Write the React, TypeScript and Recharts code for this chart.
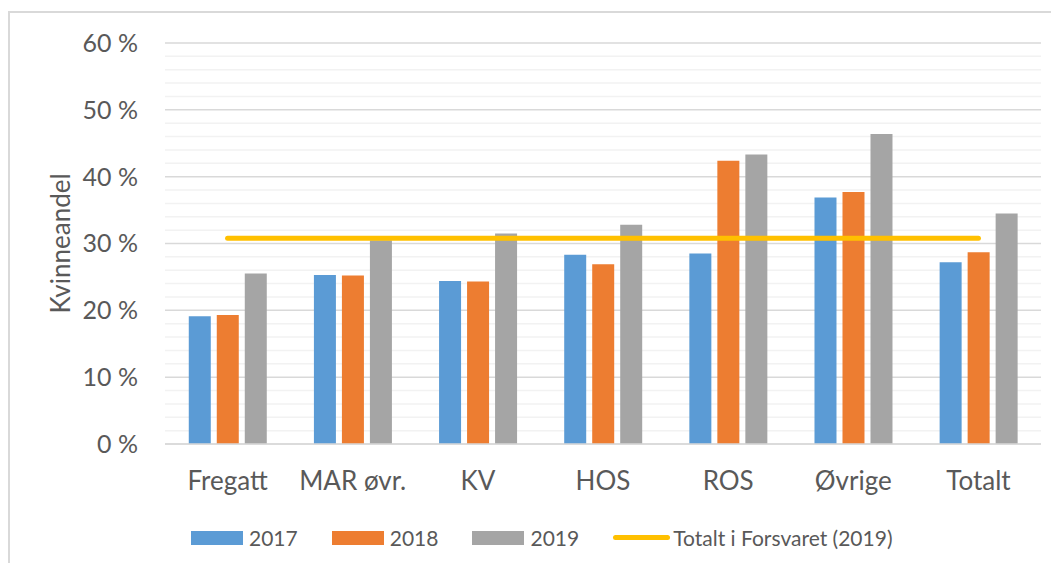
import React from 'react';
import { ComposedChart, Bar, Line, XAxis, YAxis, CartesianGrid, Legend } from 'recharts';

const categories = ['Fregatt', 'MAR øvr.', 'KV', 'HOS', 'ROS', 'Øvrige', 'Totalt'];
const values2017 = [19.1, 25.3, 24.4, 28.3, 28.5, 36.9, 27.2];
const values2018 = [19.3, 25.2, 24.3, 26.9, 42.4, 37.7, 28.7];
const values2019 = [25.5, 30.5, 31.5, 32.8, 43.3, 46.4, 34.5];
const totalForsvaret = [30.8, 30.8, 30.8, 30.8, 30.8, 30.8, 30.8];
const yTicks = [0, 2, 4, 6, 8, 10, 12, 14, 16, 18, 20, 22, 24, 26, 28, 30, 32, 34, 36, 38, 40, 42, 44, 46, 48, 50, 52, 54, 56, 58, 60];
const yLabelTicks = [0, 10, 20, 30, 40, 50, 60];

const data = categories.map((c, i) => ({
  name: c,
  y2017: values2017[i],
  y2018: values2018[i],
  y2019: values2019[i],
  total: totalForsvaret[i],
}));

const FONT = 'Lato, "Open Sans", sans-serif';
const TEXT = '#595959';

const legendItems = [
  { label: '2017', color: '#5B9BD5', type: 'rect' },
  { label: '2018', color: '#ED7D31', type: 'rect' },
  { label: '2019', color: '#A5A5A5', type: 'rect' },
  { label: 'Totalt i Forsvaret (2019)', color: '#FFC000', type: 'line' },
];

const renderLegend = () => (
  <div style={{ display: 'flex', alignItems: 'center', fontFamily: FONT, fontSize: 21, color: TEXT }}>
    {legendItems.map((it, i) => (
      <div key={i} style={{ display: 'flex', alignItems: 'center', marginRight: i < 3 ? 34 : 0 }}>
        {it.type === 'rect' ? (
          <div style={{ width: 52, height: 14, background: it.color, marginRight: 6 }} />
        ) : (
          <div style={{ width: 57, height: 5, borderRadius: 3, background: it.color, marginRight: 3 }} />
        )}
        <span>{it.label}</span>
      </div>
    ))}
  </div>
);

const gridLine = (props: any) => {
  const { x1, y1, x2, y2, index } = props;
  const major = index % 5 === 0;
  return (
    <line
      key={`g-${index}`}
      x1={x1}
      y1={y1}
      x2={x2}
      y2={y2}
      stroke={major ? '#d9d9d9' : '#f2f2f2'}
      strokeWidth={1.5}
    />
  );
};

const yLabel = (props: any) => {
  const { viewBox } = props;
  const cy = viewBox.y + viewBox.height / 2;
  const cx = 52;
  return (
    <text
      x={cx}
      y={cy}
      transform={`rotate(-90, ${cx}, ${cy})`}
      textAnchor="middle"
      dominantBaseline="central"
      fontFamily={FONT}
      fontSize={26}
      fill={TEXT}
    >
      Kvinneandel
    </text>
  );
};

export default function App() {
  return (
    <div style={{ width: 1051, height: 555, overflow: 'hidden', position: 'relative', background: '#fff' }}>
      <div
        style={{
          position: 'absolute',
          left: 0,
          top: 3,
          width: 1100,
          height: 620,
          border: '2px solid #d9d9d9',
          boxSizing: 'border-box',
        }}
      />
      <div style={{ position: 'absolute', left: 0, top: 0 }}>
        <ComposedChart
          width={1051}
          height={555}
          data={data}
          margin={{ top: 35, right: 18, left: 0, bottom: 64 }}
          barCategoryGap="19%"
          barGap={6}
        >
          <CartesianGrid vertical={false} horizontal={gridLine} />
          <XAxis
            dataKey="name"
            tickLine={false}
            axisLine={{ stroke: '#d9d9d9', strokeWidth: 1.5 }}
            tickMargin={22}
            tick={{ fontFamily: FONT, fontSize: 26, fill: TEXT }}
            interval={0}
          />
          <YAxis
            width={157}
            domain={[0, 60]}
            ticks={yTicks}
            interval={0}
            tickLine={false}
            axisLine={false}
            tickMargin={21}
            tick={{ fontFamily: FONT, fontSize: 25, fill: TEXT }}
            tickFormatter={(v: number) => (yLabelTicks.includes(v) ? `${v} %` : '')}
            label={{ content: yLabel }}
          />
          <Legend
            content={renderLegend}
            wrapperStyle={{ position: 'absolute', left: 183, top: 517, width: 'auto' }}
          />
          <Bar dataKey="y2017" name="2017" fill="#5B9BD5" isAnimationActive={false} />
          <Bar dataKey="y2018" name="2018" fill="#ED7D31" isAnimationActive={false} />
          <Bar dataKey="y2019" name="2019" fill="#A5A5A5" isAnimationActive={false} />
          <Line
            dataKey="total"
            name="Totalt i Forsvaret (2019)"
            stroke="#FFC000"
            strokeWidth={5}
            strokeLinecap="round"
            dot={false}
            activeDot={false}
            isAnimationActive={false}
          />
        </ComposedChart>
      </div>
    </div>
  );
}
